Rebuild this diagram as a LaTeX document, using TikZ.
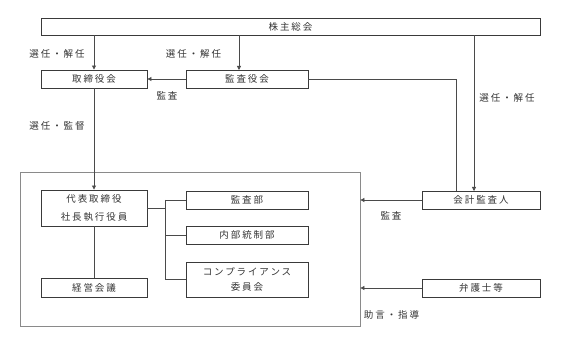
\documentclass[tikz,border=0pt]{standalone}
\usepackage{fontspec}
\newfontfamily\cjk[LetterSpace=20]{Noto Sans CJK JP}
\usetikzlibrary{arrows.meta,calc}
\definecolor{boxc}{HTML}{3A3A3A}
\definecolor{linec}{HTML}{4A4A4A}
\definecolor{outerc}{HTML}{8A8A8A}
\begin{document}
\begin{tikzpicture}[x=1pt,y=-1pt,
  font=\cjk\fontsize{9.5}{12}\selectfont,
  box/.style={draw=boxc,line width=0.9pt,minimum width=#1,inner sep=0pt,align=center,text=black!80},
  box/.default=122pt,
  conn/.style={draw=linec,line width=0.8pt},
  arr/.style={conn,-{Triangle[length=4pt,width=4pt]}},
  lbl/.style={text=black!80,inner sep=0pt}]
\useasboundingbox (0,0) rectangle (572,344);
% outer frame
\node[draw=outerc,line width=0.8pt,minimum width=340pt,minimum height=154pt,inner sep=0pt] (outer) at (190,249) {};
% boxes
\node[box=499pt,minimum height=17pt] (sh) at (290.5,26.5) {株主総会};
\node[box=106pt,minimum height=18pt] (tb) at (94,79) {取締役会};
\node[box=122pt,minimum height=18pt] (ka) at (247,79) {監査役会};
\node[box=106pt,minimum height=36pt,font=\cjk\fontsize{9.5}{18}\selectfont] (dh) at (94,208) {代表取締役\\社長執行役員};
\node[box=106pt,minimum height=19pt] (km) at (94,287.5) {経営会議};
\node[box=122pt,minimum height=18pt] (kb) at (247,200) {監査部};
\node[box=122pt,minimum height=18pt] (nt) at (247,235) {内部統制部};
\node[box=122pt,minimum height=35pt,font=\cjk\fontsize{9.5}{15}\selectfont] (cp) at (247,279.5) {コンプライアンス\\委員会};
\node[box=118pt,minimum height=18pt] (ak) at (481,200) {会計監査人};
\node[box=118pt,minimum height=18pt] (bg) at (481,288) {弁護士等};
% helper coordinates
\coordinate (kaIn) at (239,70);
\coordinate (akL) at (456,191);
\coordinate (akR) at (474,191);
\coordinate (br) at (165,209);
% connectors
\draw[arr] (sh.south -| tb.north) -- (tb.north);
\draw[arr] (sh.south -| kaIn) -- (kaIn);
\draw[arr] (ka.west) -- (tb.east);
\draw[conn] (ka.east) -| (akL);
\draw[arr] (sh.south -| akR) -- (akR);
\draw[arr] (tb.south) -- (dh.north);
\draw[conn] (dh.south) -- (km.north);
\draw[conn] (dh.east) -- (dh.east -| br);
\draw[conn] (br |- kb.west) -- (br |- cp.west);
\draw[conn] (br |- kb.west) -- (kb.west);
\draw[conn] (br |- nt.west) -- (nt.west);
\draw[conn] (br |- cp.west) -- (cp.west);
\draw[arr] (ak.west) -- (ak.west -| outer.east);
\draw[arr] (bg.west) -- (bg.west -| outer.east);
% labels
\node[lbl] (l1) at (57,54) {選任・解任};
\node[lbl] (l2) at (193.5,54) {選任・解任};
\node[lbl] (l3) at (167,96) {監査};
\node[lbl] (l4) at (57,126) {選任・監督};
\node[lbl] (l5) at (507,98) {選任・解任};
\node[lbl] (l6) at (391,216) {監査};
\node[lbl] (l7) at (391.5,315) {助言・指導};
\end{tikzpicture}
\end{document}
